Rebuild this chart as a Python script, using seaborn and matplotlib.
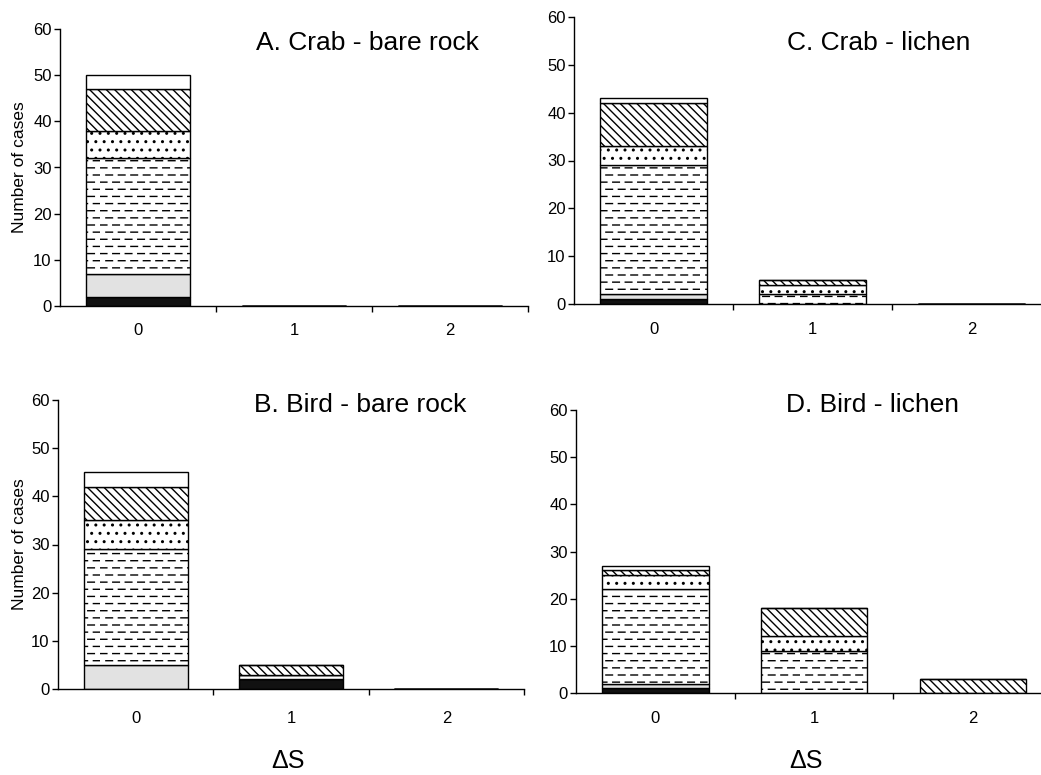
import numpy as np
import matplotlib
matplotlib.use("Agg")
import matplotlib.pyplot as plt
import matplotlib.hatch as mhatch
from matplotlib.path import Path
from matplotlib.ticker import FixedLocator
import seaborn as sns

# ---------------- data ----------------
delta_s = ["0", "1", "2"]
layers = ["solid", "grey", "dashed", "dotted", "hatched", "open"]

# A. Crab - bare rock
a_solid = [2, 0, 0]
a_grey = [5, 0, 0]
a_dashed = [25, 0, 0]
a_dotted = [6, 0, 0]
a_hatched = [9, 0, 0]
a_open = [3, 0, 0]

# B. Bird - bare rock
b_solid = [0, 2, 0]
b_grey = [5, 0, 0]
b_dashed = [24, 1, 0]
b_dotted = [6, 0, 0]
b_hatched = [7, 2, 0]
b_open = [3, 0, 0]

# C. Crab - lichen
c_solid = [1, 0, 0]
c_grey = [1, 0, 0]
c_dashed = [27, 2, 0]
c_dotted = [4, 2, 0]
c_hatched = [9, 1, 0]
c_open = [1, 0, 0]

# D. Bird - lichen
d_solid = [1, 0, 0]
d_grey = [1, 0, 0]
d_dashed = [20, 9, 0]
d_dotted = [3, 3, 0]
d_hatched = [1, 6, 3]
d_open = [1, 0, 0]

titles = {"A": "A. Crab - bare rock", "B": "B. Bird - bare rock",
          "C": "C. Crab - lichen", "D": "D. Bird - lichen"}
y_ticks = [0, 10, 20, 30, 40, 50, 60]
y_label = "Number of cases"
x_label = "ΔS"

panel_data = {
    "A": [a_solid, a_grey, a_dashed, a_dotted, a_hatched, a_open],
    "B": [b_solid, b_grey, b_dashed, b_dotted, b_hatched, b_open],
    "C": [c_solid, c_grey, c_dashed, c_dotted, c_hatched, c_open],
    "D": [d_solid, d_grey, d_dashed, d_dotted, d_hatched, d_open],
}

# ---------------- dashed hatch pattern ----------------
class DashedRows(mhatch.HatchPatternBase):
    def __init__(self, hatch, density):
        n = hatch.count("-")
        self.num_rows = 14 * n
        self.num_cols = 8
        self.num_vertices = self.num_rows * self.num_cols * 2

    def set_vertices_and_codes(self, vertices, codes):
        k = 0
        for i in range(self.num_rows):
            y = (i + 0.5) / self.num_rows
            off = 0.0 if i % 2 == 0 else 0.45
            for j in range(self.num_cols):
                vertices[k] = ((j + off + 0.02) / self.num_cols, y)
                vertices[k + 1] = ((j + off + 0.55) / self.num_cols, y)
                codes[k] = Path.MOVETO
                codes[k + 1] = Path.LINETO
                k += 2


mhatch._hatch_types = [DashedRows if t is mhatch.HorizontalHatch else t
                       for t in mhatch._hatch_types]

BACKSLASH = chr(92)
styles = {
    "solid": dict(color="#111111", hatch=None),
    "grey": dict(color="#e2e2e2", hatch=None),
    "dashed": dict(color="white", hatch="-"),
    "dotted": dict(color="white", hatch=".."),
    "hatched": dict(color="white", hatch=BACKSLASH * 4),
    "open": dict(color="white", hatch=None),
}

# ---------------- style ----------------
sns.set_style("ticks")
plt.rcParams["font.family"] = ["Liberation Sans", "DejaVu Sans"]
plt.rcParams["hatch.linewidth"] = 1.0
plt.rcParams["hatch.color"] = "black"
plt.rcParams["text.color"] = "black"

W, H = 1041, 775
fig = plt.figure(figsize=(W / 100, H / 100), dpi=100)


def rect(l, r, t, b):
    return [l / W, 1 - b / H, (r - l) / W, (b - t) / H]


layout = {
    "A": dict(rect=rect(60, 528, 29, 306), xlim=(-0.5, 2.5), xpad=12),
    "C": dict(rect=rect(574, 1040, 17, 304), xlim=(-0.5, 2.43), xpad=13),
    "B": dict(rect=rect(58, 524, 400, 689), xlim=(-0.5, 2.5), xpad=16),
    "D": dict(rect=rect(576, 1041, 410, 693), xlim=(-0.5, 2.43), xpad=13),
}

for key, lay in layout.items():
    ax = fig.add_axes(lay["rect"])
    bottom = np.zeros(len(delta_s))
    for layer, vals in zip(layers, panel_data[key]):
        st = styles[layer]
        sns.barplot(x=delta_s, y=vals, order=delta_s, bottom=bottom.copy(),
                    width=0.67, color=st["color"], saturation=1,
                    edgecolor="black", linewidth=1.0, hatch=st["hatch"],
                    errorbar=None, ax=ax)
        bottom += np.array(vals, dtype=float)

    ax.set_xlim(*lay["xlim"])
    ax.set_ylim(0, 60)
    ax.set_yticks(y_ticks)
    ax.set_xlabel("")
    ax.set_ylabel("")
    for s in ["top", "right"]:
        ax.spines[s].set_visible(False)
    for s in ["left", "bottom"]:
        ax.spines[s].set_linewidth(1.0)
        ax.spines[s].set_color("black")
    ax.tick_params(axis="y", which="major", direction="out", length=4,
                   width=1, pad=2, labelsize=12, colors="black")
    ax.tick_params(axis="x", which="major", length=0, pad=lay["xpad"],
                   labelsize=12, colors="black")
    ax.xaxis.set_minor_locator(FixedLocator([0.5, 1.5, 2.5]))
    ax.tick_params(axis="x", which="minor", direction="out", length=4,
                   width=1, color="black")
    ax.set_facecolor("white")

# titles
fig.text(367 / W, 1 - 43 / H, titles["A"], ha="center", va="center", fontsize=19)
fig.text(879 / W, 1 - 43 / H, titles["C"], ha="center", va="center", fontsize=19)
fig.text(360 / W, 1 - 405 / H, titles["B"], ha="center", va="center", fontsize=19)
fig.text(872 / W, 1 - 405 / H, titles["D"], ha="center", va="center", fontsize=19)

# y labels
fig.text(20 / W, 1 - 167 / H, y_label, rotation=90, ha="center", va="center", fontsize=12.5)
fig.text(20 / W, 1 - 544 / H, y_label, rotation=90, ha="center", va="center", fontsize=12.5)

# x labels
fig.text(288 / W, 1 - 761 / H, x_label, ha="center", va="center", fontsize=18)
fig.text(806 / W, 1 - 761 / H, x_label, ha="center", va="center", fontsize=18)

fig.savefig("out.png", dpi=100, facecolor="white")
